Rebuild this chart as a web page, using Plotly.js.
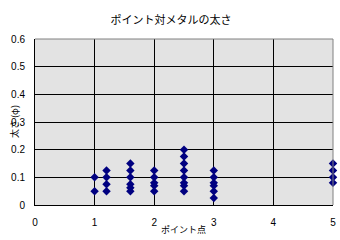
<!DOCTYPE html>
<html>
<head>
<meta charset="utf-8">
<script src="https://cdn.plot.ly/plotly-3.0.1.min.js"></script>
<style>
  html, body { margin: 0; padding: 0; background: #ffffff; }
  #chart { width: 340px; height: 240px; }
</style>
</head>
<body>
<div id="chart"></div>
<script>
// Point score vs. metal thickness, one x value per measured sample
const pointScores = [
  1, 1,
  1.2, 1.2, 1.2, 1.2,
  1.6, 1.6, 1.6, 1.6, 1.6, 1.6,
  2, 2, 2, 2, 2,
  2.5, 2.5, 2.5, 2.5, 2.5, 2.5, 2.5, 2.5,
  3, 3, 3, 3, 3, 3,
  5, 5, 5, 5
];
const thickness = [
  0.1, 0.05,
  0.125, 0.1, 0.075, 0.05,
  0.15, 0.125, 0.1, 0.075, 0.0625, 0.05,
  0.125, 0.1, 0.08, 0.07, 0.05,
  0.2, 0.175, 0.15, 0.125, 0.1, 0.08, 0.07, 0.05,
  0.125, 0.1, 0.08, 0.07, 0.05, 0.025,
  0.15, 0.125, 0.1, 0.08
];
const xTicks = [0, 1, 2, 3, 4, 5];
const yTicks = [0, 0.1, 0.2, 0.3, 0.4, 0.5, 0.6];

const chartTitle = 'ポイント対メタルの太さ';
const xTitle = 'ポイント点';
const yTitle = '太さ (φ)';

const baseFont = { family: 'Liberation Sans, Arial, sans-serif', size: 10, color: '#000000' };
const cjkFamily = 'Noto Sans CJK JP, sans-serif';

const trace = {
  type: 'scatter',
  mode: 'markers',
  x: pointScores,
  y: thickness,
  cliponaxis: false,
  marker: { symbol: 'diamond', size: 6.5, color: '#000080', line: { width: 0 } },
  hoverinfo: 'none'
};

const layout = {
  width: 340,
  height: 240,
  margin: { l: 35, r: 7, t: 39, b: 35, pad: 0 },
  paper_bgcolor: '#ffffff',
  plot_bgcolor: '#e3e3e3',
  showlegend: false,
  font: baseFont,
  title: {
    text: chartTitle,
    font: { family: cjkFamily, size: 11, color: '#000000' },
    x: 0.503, xanchor: 'center',
    y: 0.915, yanchor: 'middle'
  },
  xaxis: {
    range: [0, 5],
    tickvals: xTicks,
    ticktext: xTicks.map(String),
    showgrid: true,
    gridcolor: '#000000',
    gridwidth: 1,
    zeroline: false,
    showline: true,
    linecolor: '#000000',
    linewidth: 1,
    ticks: 'outside',
    ticklen: 8,
    tickcolor: 'rgba(0,0,0,0)',
    tickfont: baseFont,
    fixedrange: true
  },
  yaxis: {
    range: [0, 0.6],
    tickvals: yTicks,
    ticktext: yTicks.map(v => (v === 0 ? '0' : v.toFixed(1))),
    showgrid: true,
    gridcolor: '#000000',
    gridwidth: 1,
    zeroline: false,
    showline: true,
    linecolor: '#000000',
    linewidth: 1,
    ticks: 'outside',
    ticklen: 7,
    tickcolor: 'rgba(0,0,0,0)',
    tickfont: baseFont,
    fixedrange: true
  },
  annotations: [
    { text: xTitle, xref: 'paper', yref: 'paper', x: 0.497, y: 0, yshift: -24,
      xanchor: 'center', yanchor: 'middle', showarrow: false,
      font: { family: cjkFamily, size: 9, color: '#000000' } },
    { text: yTitle, xref: 'paper', yref: 'paper', x: 0, xshift: -21, y: 0.5,
      xanchor: 'center', yanchor: 'middle', textangle: -90, showarrow: false,
      font: { family: cjkFamily, size: 9, color: '#000000' } }
  ],
  shapes: [
    // grey frame along the top and right edges of the plot area
    { type: 'line', xref: 'paper', yref: 'paper', x0: 0, x1: 1, y0: 1, y1: 1,
      line: { color: '#808080', width: 1 } },
    { type: 'line', xref: 'paper', yref: 'paper', x0: 1, x1: 1, y0: 0, y1: 1,
      line: { color: '#808080', width: 1 } }
  ]
};

Plotly.newPlot('chart', [trace], layout, { staticPlot: true, displayModeBar: false });
</script>
</body>
</html>
